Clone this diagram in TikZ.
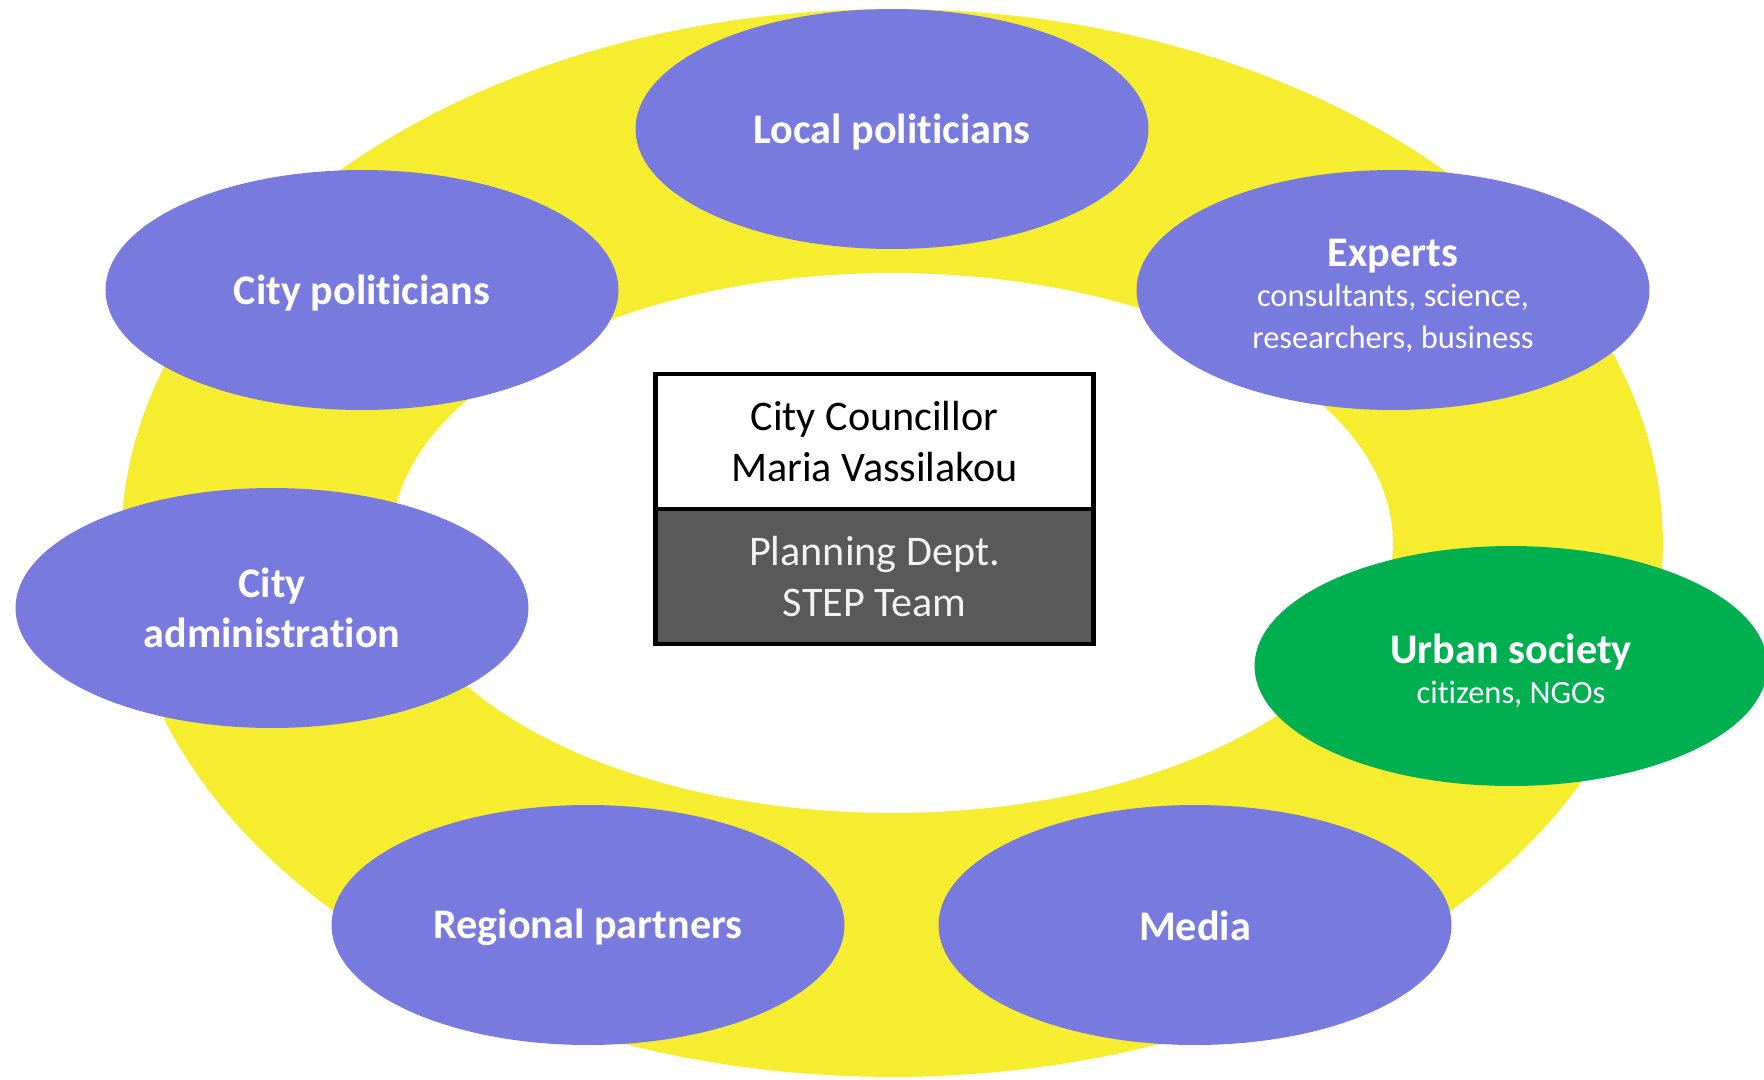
\documentclass[tikz,border=0pt]{standalone}
\usepackage{fontspec}
\setmainfont[Ligatures={NoCommon}]{Carlito}
\usepackage{xcolor}
\usetikzlibrary{shapes.geometric, positioning}

\definecolor{ringyellow}{RGB}{246,236,48}
\definecolor{actorblue}{RGB}{121,122,222}
\definecolor{societygreen}{RGB}{0,176,80}
\definecolor{teamgray}{RGB}{89,89,89}

\newcommand{\actorsub}[1]{{\fontsize{18.5}{22.5}\selectfont\mdseries #1}}

\begin{document}
\begin{tikzpicture}[x=0.02cm, y=-0.02cm,
		actor/.style={ellipse, fill=actorblue, inner sep=0pt,
			minimum width=10.26cm, minimum height=4.8cm},
		actortext/.style={text=white, inner sep=0pt, align=center,
			font=\fontsize{24}{28.8}\selectfont\bfseries},
		teambox/.style={draw, line width=2.8pt, inner sep=0pt, align=center,
			minimum width=8.76cm, minimum height=2.7cm,
			font=\fontsize{24}{28.8}\selectfont}]
			\useasboundingbox (0, 0) rectangle (1764, 1079);
			\coordinate (centre) at (892, 543);

			% yellow ring
			\fill[ringyellow, even odd rule] (centre) ellipse [x radius=15.42cm, y radius=10.68cm]
				(centre) ellipse [x radius=10.02cm, y radius=5.4cm];

			% actors round the ring
			\node (local) at (892, 129) [actor, label={[actortext, yshift=-0.068cm]center:Local politicians}] {};
			\node (citypol) at (362, 290) [actor, label={[actortext, yshift=-0.068cm]center:City politicians}] {};
			\node (experts) at (1393, 290) [actor, label={[actortext, yshift=-0.11cm]center:{Experts\\[-6pt]\actorsub{consultants, science,}\\[-5pt]\actorsub{researchers, business}}}] {};
			\node (admin) at (272, 608) [actor, label={[actortext]center:{City\\administration}}] {};
			\node (society) at (1511, 666) [actor, fill=societygreen, label={[actortext, yshift=-0.1cm]center:{Urban society\\[-6pt]\actorsub{citizens, NGOs}}}] {};
			\node (regional) at (588, 925) [actor, label={[actortext, yshift=-0.045cm]center:Regional partners}] {};
			\node (media) at (1195, 925) [actor, label={[actortext, yshift=-0.02cm]center:Media}] {};

			% central box
			\node (councillor) at (874.5, 441.5) [teambox, fill=white] {City Councillor\\Maria Vassilakou};
			\node (team) at (874.5, 576.5) [teambox, fill=teamgray, text=white!95!black] {Planning Dept.\\STEP Team};
		\end{tikzpicture}
\end{document}
